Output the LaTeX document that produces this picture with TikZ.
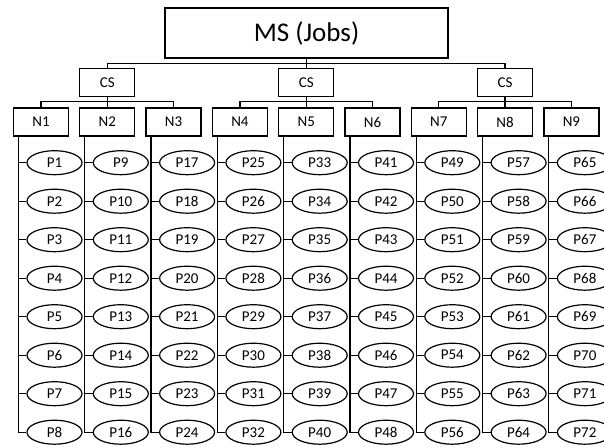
\documentclass[tikz,border=0pt]{standalone}
\usepackage{fontspec}
\setmainfont{Carlito}
\usetikzlibrary{shapes.geometric}
\begin{document}
\begin{tikzpicture}[x=1pt,y=-1pt,
  box/.style={draw, line width=1.3pt, rectangle, minimum width=55pt, minimum height=28pt,
    inner sep=0pt, font=\fontsize{15}{17}\selectfont},
  proc/.style={draw, line width=1.2pt, ellipse, minimum width=55pt, minimum height=24pt,
    inner sep=0pt, font=\fontsize{15}{17}\selectfont},
  wire/.style={line width=1.3pt}]
\useasboundingbox (0,0) rectangle (604,447);
\clip (0,0) rectangle (604,447);
% master server
\node[draw, line width=1.3pt, minimum width=283pt, minimum height=50pt, inner sep=0pt,
  font=\fontsize{27}{30}\selectfont] (MS) at (306.5,33) {MS (Jobs)};
% cluster servers
\foreach \c in {1,2,3} {
  \pgfmathsetmacro\cx{107.3+(\c-1)*198.9}
  \node[box] (CS\c) at (\cx,82.5) {CS};
  \draw[wire] (MS.south) -- ++(0,4.5) -| (CS\c.north);
}
% nodes and their processes
\foreach \k in {1,...,9} {
  \pgfmathsetmacro\nx{41+(\k-1)*66.3}
  \pgfmathtruncatemacro\cs{int((\k-1)/3)+1}
  \node[box] (N\k) at (\nx,122) {N\k};
  \draw[wire] (CS\cs.south) -- ++(0,4.5) -| (N\k.north);
  \coordinate (T\k) at ([xshift=5.5pt]N\k.south west);
  \foreach \r in {1,...,8} {
    \pgfmathtruncatemacro\p{(\k-1)*8+\r}
    \pgfmathsetmacro\ry{162.7+(\r-1)*38.5}
    \node[proc] (P\p) at (\nx+13.5,\ry) {P\p};
    \draw[wire] (T\k |- P\p.west) -- (P\p.west);
  }
  \pgfmathtruncatemacro\last{\k*8}
  \draw[wire] (T\k) -- (T\k |- P\last.west) -- (P\last.west);
}
\end{tikzpicture}
\end{document}
